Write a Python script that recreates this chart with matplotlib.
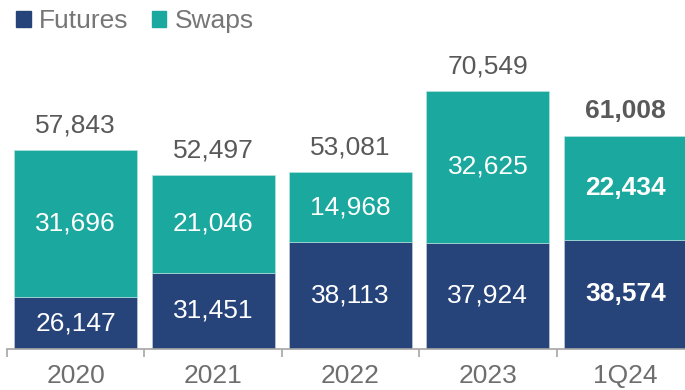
import matplotlib
matplotlib.use("Agg")
import matplotlib.pyplot as plt
from matplotlib.patches import Patch

plt.rcParams['font.family'] = ['Liberation Sans', 'DejaVu Sans']

categories = ["2020", "2021", "2022", "2023", "1Q24"]
futures = [26147, 31451, 38113, 37924, 38574]
swaps = [31696, 21046, 14968, 32625, 22434]
totals = [57843, 52497, 53081, 70549, 61008]

c_fut = "#26437a"
c_swp = "#1ba89f"
c_txt = "#595959"
c_axis = "#6e6e6e"

W, H = 685, 390
fig = plt.figure(figsize=(W / 100, H / 100), dpi=100)
ax = fig.add_axes([7 / W, (H - 349) / H, 687 / W, 349 / H])

x = list(range(len(categories)))
ax.bar(x, futures, width=0.895, bottom=0, color=c_fut, edgecolor="#c9d3e3", linewidth=0.4)
ax.bar(x, swaps, width=0.895, bottom=futures, color=c_swp, edgecolor="#bfe7e3", linewidth=0.4)

ymin = 15000
ax.set_ylim(ymin, ymin + 349 / 4.64 * 1000)
ax.set_xlim(-0.5, len(categories) - 0.5)

fs = 19
for i in x:
    bold = "bold" if i == len(categories) - 1 else "normal"
    ax.text(i, (ymin + futures[i]) / 2, f"{futures[i]:,}", ha="center", va="center",
            color="white", fontsize=fs, fontweight=bold)
    ax.text(i, futures[i] + swaps[i] / 2, f"{swaps[i]:,}", ha="center", va="center",
            color="white", fontsize=fs, fontweight=bold)
    ax.annotate(f"{totals[i]:,}", (i, futures[i] + swaps[i]), xytext=(0, 9),
                textcoords="offset points", ha="center", va="bottom",
                color=c_txt, fontsize=fs, fontweight=bold)

for s in ["top", "right", "left"]:
    ax.spines[s].set_visible(False)
ax.spines["bottom"].set_color("#a6a6a6")
ax.spines["bottom"].set_linewidth(1.2)
ax.set_yticks([])
ax.set_xticks(x)
ax.set_xticklabels(categories, fontsize=fs, color=c_axis)
ax.tick_params(axis="x", which="major", length=0, pad=11)
ax.set_xticks([i - 0.5 for i in range(len(categories) + 1)], minor=True)
ax.tick_params(axis="x", which="minor", length=6, width=1.2, color="#a6a6a6", direction="out")

handles = [Patch(color=c_fut, label="Futures"), Patch(color=c_swp, label="Swaps")]
leg = fig.legend(handles=handles, loc="upper left", bbox_to_anchor=(0.016, 0.99), ncol=2,
                 frameon=False, fontsize=fs, handlelength=0.55, handleheight=0.55,
                 handletextpad=0.3, columnspacing=0.9, borderaxespad=0.0, borderpad=0.2)
for t in leg.get_texts():
    t.set_color("#767676")

fig.savefig("out.png", dpi=100)
